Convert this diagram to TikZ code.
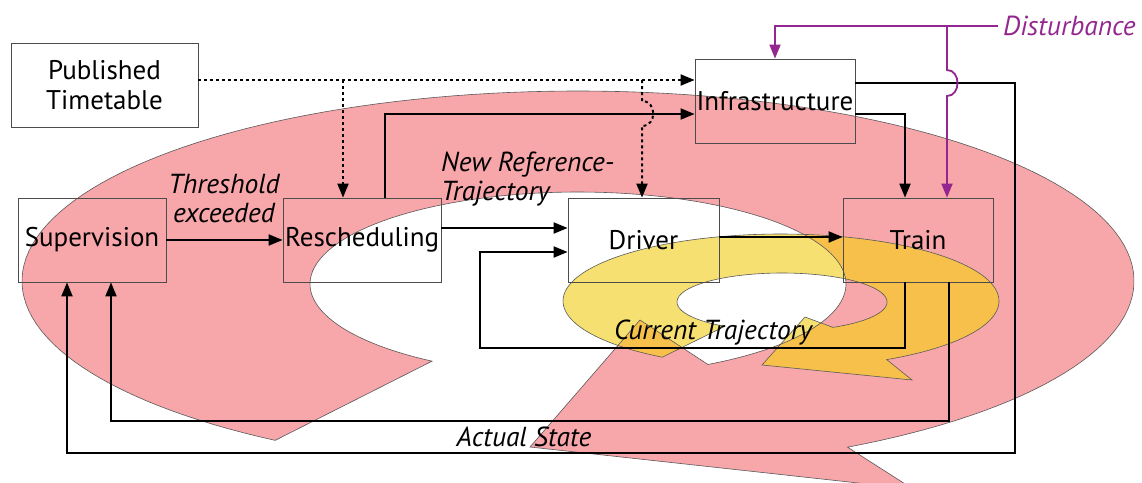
\documentclass[tikz,border=0pt]{standalone}
\usepackage{fontspec}
\setmainfont{PT Sans}
\usetikzlibrary{arrows.meta,calc}
\definecolor{pinkc}{RGB}{247,166,170}
\definecolor{yelc}{RGB}{246,224,114}
\definecolor{orc}{RGB}{246,192,74}
\definecolor{purp}{RGB}{147,39,143}
\begin{document}
\begin{tikzpicture}[x=1pt,y=-1pt,
  box/.style={draw=black!70, line width=0.8pt, inner sep=0pt, align=center, font=\fontsize{27}{30}\selectfont},
  lab/.style={inner sep=0pt, font=\fontsize{27.5}{29}\selectfont\itshape},
  conn/.style={line width=2pt, -{Triangle[length=14pt,width=11pt]}},
  dotconn/.style={conn, dash pattern=on 3pt off 3pt},
  pconn/.style={line width=1.8pt, draw=purp, -{Triangle[length=14pt,width=11pt]}},
  shapeline/.style={draw=black!65, line width=0.6pt}]
\useasboundingbox (0,0) rectangle (1142,482);
\clip (0,0) rectangle (1142,482);
\def\pinkshape{plot[domain=123:421, samples=150] ({578+556*cos(\x)},{281+190*sin(\x)}) -- (913,489) -- (530,447) -- (640,320) -- plot[domain=421:123, samples=120] ({578+268*cos(\x)},{284+92*sin(\x)}) -- cycle}
\def\yelshape{plot[domain=123:421, samples=120] ({781+218*cos(\x)},{301+67*sin(\x)}) -- (912,380) -- (762,365) -- (805,317) -- plot[domain=421:123, samples=100] ({782+105*cos(\x)},{302+29*sin(\x)}) -- cycle}
% shapes
\fill[pinkc] \pinkshape;
\fill[yelc] \yelshape;
\begin{scope}
  \clip \pinkshape;
  \fill[orc] \yelshape;
\end{scope}
\draw[shapeline] \pinkshape;
\draw[shapeline] \yelshape;
% boxes
\node[box, minimum width=187pt, minimum height=84pt] (tt) at (104.5,85) {Published\\Timetable};
\node[box, minimum width=148pt, minimum height=84pt] (sup) at (92,240) {Supervision};
\node[box, minimum width=158pt, minimum height=84pt] (resch) at (362,240) {Rescheduling};
\node[box, minimum width=151pt, minimum height=84pt] (driver) at (643.5,240) {Driver};
\node[box, minimum width=160pt, minimum height=84pt] (infra) at (775,101) {Infrastructure};
\node[box, minimum width=150pt, minimum height=84pt] (train) at (918,240) {Train};
% labels
\node[lab, align=center] (thr) at (224,199) {Threshold\\exceeded};
\node[lab, align=left, anchor=west] (nrt) at (441,179) {New Reference-\\Trajectory};
\node[lab] (cur) at (713,333) {Current Trajectory};
\node[lab] (act) at (524,437) {Actual State};
\node[lab, text=purp, anchor=west] (dist) at (1003,26) {Disturbance};
% coordinates
\coordinate (b1) at (343,80);
\coordinate (b2) at (642,80);
\coordinate (c1) at (1015,453);
\coordinate (c2) at (949,421);
\coordinate (c3) at (480,348);
\coordinate (p1) at (947,25);
% dotted connectors
\draw[dotconn] ([yshift=5pt]tt.east) -- ([yshift=21pt]infra.west);
\draw[dotconn] (b1) -- (b1 |- resch.north);
\draw[dotconn] (b2) -- (642,101) .. controls (657,101) and (657,126) .. (642,126) -- (b2 |- driver.north);
% solid connectors
\draw[conn] (sup.east) -- (resch.west);
\draw[conn] ([xshift=23pt]resch.north) |- ([yshift=-13pt]infra.west);
\draw[conn] ([yshift=12pt]resch.east) -- ([yshift=12pt]driver.west);
\draw[conn] ([yshift=3pt]driver.east) -- ([yshift=3pt]train.west);
\draw[conn] ([xshift=-13pt]train.south) |- (c3) |- ([yshift=-12pt]driver.west);
\draw[conn] ([yshift=-13pt]infra.east) -| ([xshift=-13pt]train.north);
\draw[conn] ([yshift=18pt]infra.east) -| (c1) -| ([xshift=-25pt]sup.south);
\draw[conn] ([xshift=31pt]train.south) |- (c2) -| ([xshift=19pt]sup.south);
% disturbance
\draw[pconn] ([xshift=-5pt]dist.west) -| (infra.north);
\draw[pconn] (p1) -- (947,70) .. controls (961,70) and (961,96) .. (947,96) -- (p1 |- train.north);
\end{tikzpicture}
\end{document}
